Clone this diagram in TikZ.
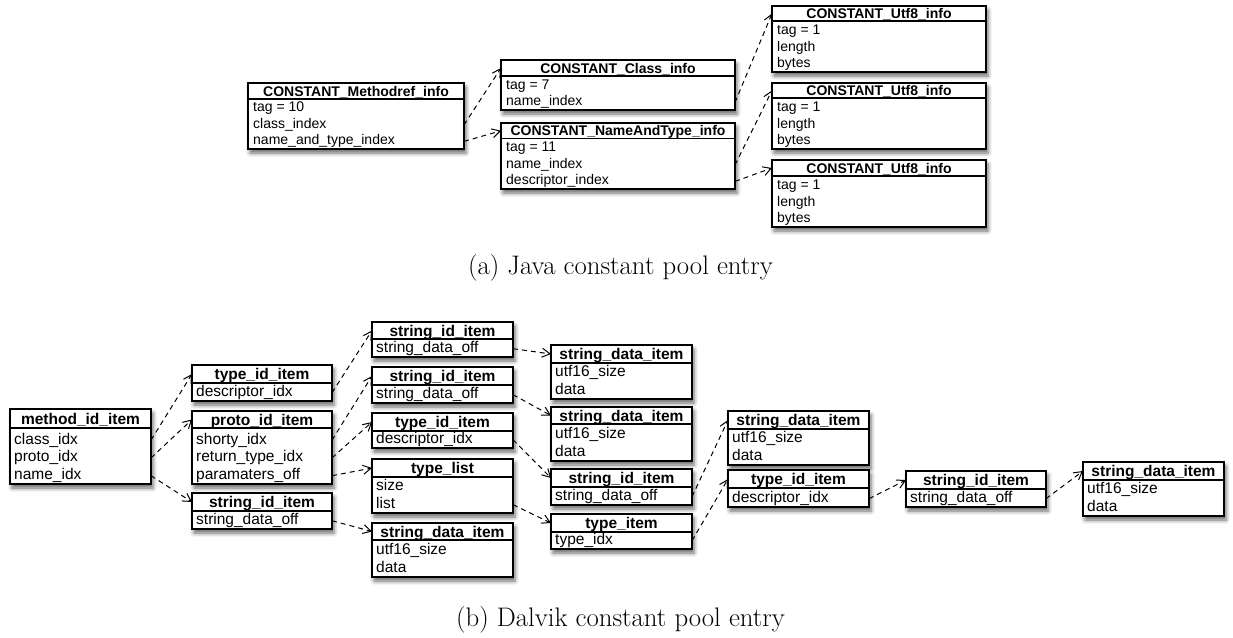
\documentclass[tikz,border=0pt]{standalone}
\usepackage{fontspec}
\newfontfamily\boxfont{Liberation Sans}
\usetikzlibrary{arrows.meta,shadows.blur}
% name, left, top, right, header-bottom, bottom, #rows, title, rows
\newcommand\ubox[9]{%
  \node[umlbox, minimum width={#4pt-#2pt}, minimum height={#6pt-#3pt}, anchor=north west] (#1) at (#2,#3) {};
  \draw[hdrline] (#2,#5) -- (#4,#5);
  \node[hdr] (#1-h) at ({(#2+#4)/2},{(#3+#5)/2}) {#8};
  \foreach \t [count=\k] in {#9} {
    \node[rowtxt] (#1-r\k) at ({#2+\rowx},{#6-\rowoff-(#7-\k)*\rowsep}) {\t};
  }
}
\begin{document}
\begin{tikzpicture}[x=1pt,y=-1pt,
  umlbox/.style={draw, line width=1.2pt, fill=white, inner sep=0pt, outer sep=0pt,
    blur shadow={shadow xshift=2pt, shadow yshift=-4pt, shadow blur radius=4pt, shadow opacity=60}},
  hdrline/.style={line width=1.2pt},
  hdr/.style={inner sep=0pt, anchor=center, font=\boxfont\bfseries\fontsize{\boxfs}{\boxfs}\selectfont, text height=\hdth, text depth=0pt},
  rowtxt/.style={inner sep=0pt, anchor=west, font=\boxfont\fontsize{\boxfs}{\boxfs}\selectfont, text height=\rowth, text depth=\rowtd},
  conn/.style={line width=1pt, dash pattern=on 5pt off 4pt, -{Straight Barb[length=8pt,width=9pt,line width=1pt]}},
  captxt/.style={font=\fontsize{26.8}{30}\selectfont, inner sep=0pt}]
\useasboundingbox (0,0) rectangle (1233,637);
% ---------- (a) Java ----------
\def\boxfs{14}\def\rowth{10.1pt}\def\rowtd{3.1pt}\def\hdth{10.1pt}%
\def\rowoff{7.6}\def\rowsep{16.5}\def\rowx{5}%
\ubox{mref}{248}{83}{464}{99}{149}{3}{CONSTANT\_Methodref\_info}{tag = 10, class\_index, name\_and\_type\_index}
\ubox{cls}{501}{60}{735}{76}{110}{2}{CONSTANT\_Class\_info}{tag = 7, name\_index}
\ubox{nat}{501}{123}{735}{138.5}{189}{3}{CONSTANT\_NameAndType\_info}{tag = 11, name\_index, descriptor\_index}
\ubox{ua}{772}{6}{986}{21}{72}{3}{CONSTANT\_Utf8\_info}{tag = 1, length, bytes}
\ubox{ub}{772}{83}{986}{98}{149}{3}{CONSTANT\_Utf8\_info}{tag = 1, length, bytes}
\ubox{uc}{772}{160}{986}{176}{227}{3}{CONSTANT\_Utf8\_info}{tag = 1, length, bytes}
\draw[conn] (mref.east |- mref-r2) -- (cls.west |- cls-h);
\draw[conn] (mref.east |- mref-r3) -- (nat.west |- nat-h);
\draw[conn] (cls.east |- cls-r2) -- (ua.west |- ua-h);
\draw[conn] (nat.east |- nat-r2) -- (ub.west |- ub-h);
\draw[conn] (nat.east |- nat-r3) -- (uc.west |- uc-h);
\node[captxt] (capa) at (620.5,268) {(a) Java constant pool entry};
% ---------- (b) Dalvik ----------
\def\boxfs{15.5}\def\rowth{11.2pt}\def\rowtd{3.4pt}\def\hdth{11.2pt}%
\def\rowoff{8.3}\def\rowsep{17.8}\def\rowx{4}%
\ubox{mid}{10}{409}{151}{428}{484}{3}{method\_id\_item}{class\_idx, proto\_idx, name\_idx}
\ubox{tidA}{192}{365}{332}{383}{401}{1}{type\_id\_item}{descriptor\_idx}
\ubox{pid}{192}{411}{332}{428}{484}{3}{proto\_id\_item}{shorty\_idx, return\_type\_idx, paramaters\_off}
\ubox{sidA}{192}{493}{332}{511}{529}{1}{string\_id\_item}{string\_data\_off}
\ubox{sidB}{372}{322}{513}{339}{357}{1}{string\_id\_item}{string\_data\_off}
\ubox{sidC}{372}{367}{513}{385}{403}{1}{string\_id\_item}{string\_data\_off}
\ubox{tidB}{372}{413}{513}{431}{448}{1}{type\_id\_item}{descriptor\_idx}
\ubox{tl}{372}{459}{513}{477}{513}{2}{type\_list}{size, list}
\ubox{sdA}{372}{523}{513}{540}{577}{2}{string\_data\_item}{utf16\_size, data}
\ubox{sdB}{551}{345}{692}{363}{399}{2}{string\_data\_item}{utf16\_size, data}
\ubox{sdC}{551}{407}{692}{424}{461}{2}{string\_data\_item}{utf16\_size, data}
\ubox{sidD}{551}{469}{692}{487}{505}{1}{string\_id\_item}{string\_data\_off}
\ubox{ti}{551}{514}{692}{532}{549}{1}{type\_item}{type\_idx}
\ubox{sdD}{728}{411}{869}{429}{465}{2}{string\_data\_item}{utf16\_size, data}
\ubox{tidC}{728}{470}{869}{488}{507}{1}{type\_id\_item}{descriptor\_idx}
\ubox{sidE}{906}{471}{1046}{489}{507}{1}{string\_id\_item}{string\_data\_off}
\ubox{sdE}{1083}{462}{1224}{480}{516}{2}{string\_data\_item}{utf16\_size, data}
\draw[conn] (mid.east |- mid-r1) -- (tidA.west |- tidA-h);
\draw[conn] (mid.east |- mid-r2) -- (pid.west |- pid-h);
\draw[conn] (mid.east |- mid-r3) -- (sidA.west |- sidA-h);
\draw[conn] (tidA.east |- tidA-r1) -- (sidB.west |- sidB-h);
\draw[conn] (pid.east |- pid-r1) -- (sidC.west |- sidC-h);
\draw[conn] (pid.east |- pid-r2) -- (tidB.west |- tidB-h);
\draw[conn] (pid.east |- pid-r3) -- (tl.west |- tl-h);
\draw[conn] (sidA.east |- sidA-r1) -- (sdA.west |- sdA-h);
\draw[conn] (sidB.east |- sidB-r1) -- (sdB.west |- sdB-h);
\draw[conn] (sidC.east |- sidC-r1) -- (sdC.west |- sdC-h);
\draw[conn] (tidB.east |- tidB-r1) -- (sidD.west |- sidD-h);
\draw[conn] (tl.east |- tl-r2) -- (ti.west |- ti-h);
\draw[conn] (sidD.east |- sidD-r1) -- (sdD.west |- sdD-h);
\draw[conn] (ti.east |- ti-r1) -- (tidC.west |- tidC-h);
\draw[conn] (tidC.east |- tidC-r1) -- (sidE.west |- sidE-h);
\draw[conn] (sidE.east |- sidE-r1) -- (sdE.west |- sdE-h);
\node[captxt] (capb) at (620.5,620) {(b) Dalvik constant pool entry};
\end{tikzpicture}
\end{document}
